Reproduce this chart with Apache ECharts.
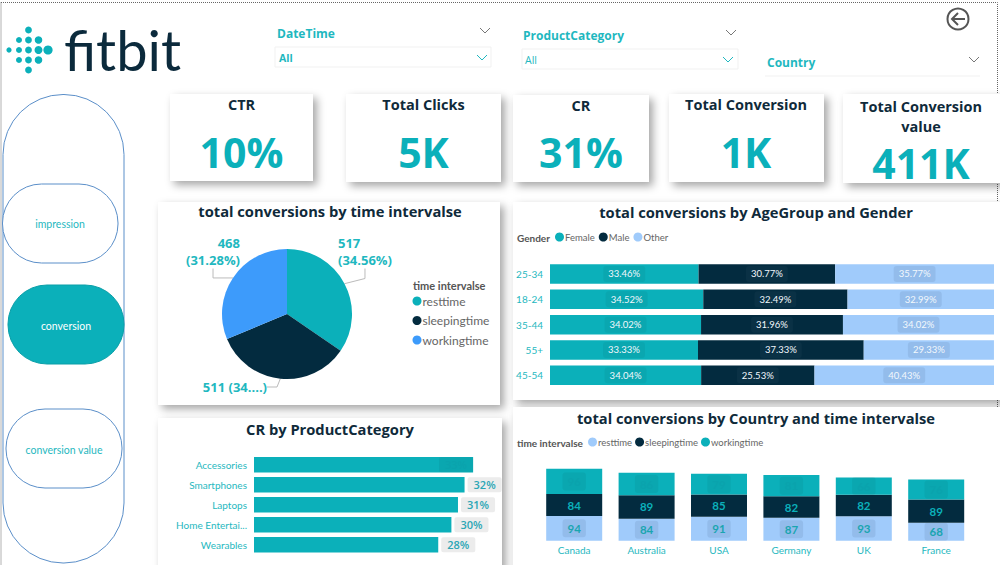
<!DOCTYPE html>
<html>
<head>
<meta charset="utf-8">
<title>fitbit dashboard</title>
<style>
  html, body { margin: 0; padding: 0; background: #fff; overflow: hidden; }
  #main { width: 1000px; height: 565px; }
</style>
<script src="https://cdn.jsdelivr.net/npm/echarts@6/dist/echarts.min.js"></script>
</head>
<body>
<div id="main"></div>
<script>
// data
const kpiTitles = ['CTR', 'Total Clicks', 'CR', 'Total Conversion', 'Total Conversion\nvalue']
const kpiValues = ['10%', '5K', '31%', '1K', '411K']

const timeNames = ['resttime', 'sleepingtime', 'workingtime']
const timeTotals = [517, 511, 468]
const pieLabels = ['517\n(34.56%)', '511 (34....)', '468\n(31.28%)']

const ageGroups = ['25-34', '18-24', '35-44', '55+', '45-54']
const femaleShare = [33.46, 34.52, 34.02, 33.33, 34.04]
const maleShare = [30.77, 32.49, 31.96, 37.33, 25.53]
const otherShare = [35.77, 32.99, 34.02, 29.33, 40.43]

const countries = ['Canada', 'Australia', 'USA', 'Germany', 'UK', 'France']
const restByCountry = [94, 84, 91, 87, 93, 68]
const sleepByCountry = [84, 89, 85, 82, 82, 89]
const workByCountry = [96, 86, 79, 81, 66, 76]

const productCategories = ['Accessories', 'Smartphones', 'Laptops', 'Home Entertainment', 'Wearables']
const crByCategory = [33.3, 32, 31, 30, 28]

const sideButtons = ['impression', 'conversion', 'conversion value']

// colours
const TEAL = '#0bb0ba'
const NAVY = '#032b3f'
const LIGHT = '#a0cbfb'
const BLUE = '#3d9bfb'
const LABEL_TEAL = '#1fb8c0'
const FONT = '"Open Sans", sans-serif'
const SMALL_FONT = 'Lato, sans-serif'

// page furniture
const cardBoxes = [
  [170, 94, 143, 87], [346, 94, 155, 88], [513, 95, 136, 87], [669, 94, 155, 88], [843, 94, 160, 89]
]
const panelBoxes = [
  [158, 202, 342, 203], [513, 202, 490, 198], [158, 418, 344, 160], [513, 407, 490, 170]
]
const logoDots = [
  [28.5, 30, 3.4], [19, 40, 3], [28.5, 40, 3.4], [38.5, 40, 3.8],
  [9, 50, 2.6], [19, 50, 3], [28.5, 50, 3.4], [38.5, 50, 4], [48, 50, 4.6],
  [19, 60, 3], [28.5, 60, 3.4], [38.5, 60, 3.8], [28.5, 70, 3.4]
]

const text = (x, y, str, font, fill, align) => ({
  type: 'text', x, y, z: 5,
  style: { text: str, font, fill, textAlign: align || 'left', textVerticalAlign: 'middle' }
})
const chevron = (x, y, color) => ({
  type: 'polyline', z: 5,
  shape: { points: [[x - 5, y - 3], [x, y + 2], [x + 5, y - 3]] },
  style: { stroke: color, lineWidth: 1, fill: null }
})
const box = (b, extra) => ({
  type: 'rect', z: 0,
  shape: { x: b[0], y: b[1], width: b[2], height: b[3], r: b[4] || 0 },
  style: Object.assign({ fill: '#fff' }, extra)
})
const shadow = { shadowBlur: 8, shadowOffsetX: 4, shadowOffsetY: 4, shadowColor: 'rgba(0,0,0,0.35)' }

const furniture = [
  box([1, 2.5, 996.5, 580], { fill: 'none', stroke: '#666', lineWidth: 1, lineDash: [1, 1] })
]
logoDots.forEach(d => furniture.push({ type: 'circle', z: 5, shape: { cx: d[0], cy: d[1], r: d[2] }, style: { fill: TEAL } }))
furniture.push(text(64, 49, 'fitbit', '56px Lato, sans-serif', '#0b2a3c'))

// slicers
furniture.push(
  text(277, 33, 'DateTime', 'bold 12px ' + FONT, LABEL_TEAL),
  chevron(485, 31, '#777'),
  box([275, 47, 216, 20], { stroke: '#f1f1f1', lineWidth: 1 }),
  text(279, 58, 'All', 'bold 10.5px ' + FONT, LABEL_TEAL),
  chevron(482, 58, LABEL_TEAL),
  text(523, 35, 'ProductCategory', 'bold 12px ' + FONT, LABEL_TEAL),
  chevron(731, 33, '#777'),
  box([522, 49, 216, 20], { stroke: '#f1f1f1', lineWidth: 1 }),
  text(525, 60, 'All', '10.5px ' + FONT, LABEL_TEAL),
  chevron(728, 60, LABEL_TEAL),
  text(767, 62, 'Country', 'bold 12px ' + FONT, LABEL_TEAL),
  chevron(974, 60, '#777'),
  { type: 'line', z: 0, shape: { x1: 765, y1: 76, x2: 980, y2: 76 }, style: { stroke: '#f1f1f1', lineWidth: 1 } }
)

// back button
furniture.push(
  { type: 'circle', z: 5, shape: { cx: 958, cy: 19, r: 10.5 }, style: { fill: '#fff', stroke: '#555', lineWidth: 2 } },
  { type: 'polyline', z: 5, shape: { points: [[958, 13], [952, 19], [958, 25]] }, style: { stroke: '#555', lineWidth: 2, fill: null } },
  { type: 'line', z: 5, shape: { x1: 952, y1: 19, x2: 965, y2: 19 }, style: { stroke: '#555', lineWidth: 2 } }
)

// side navigation
const OUTLINE = '#5b8fc9'
furniture.push(
  box([3, 94.5, 121, 468.5, 60], { stroke: OUTLINE, lineWidth: 1 }),
  box([2.5, 184, 115.5, 79, 39], { stroke: OUTLINE, lineWidth: 1 }),
  box([8, 285, 116, 79, 39], { fill: TEAL, stroke: '#0a9fa8', lineWidth: 1 }),
  box([6, 409, 116, 79, 39], { stroke: OUTLINE, lineWidth: 1 }),
  text(60, 224, sideButtons[0], '10.5px ' + SMALL_FONT, LABEL_TEAL, 'center'),
  text(66, 325.5, sideButtons[1], '10.5px ' + SMALL_FONT, '#fff', 'center'),
  text(64, 449.5, sideButtons[2], '10.5px ' + SMALL_FONT, LABEL_TEAL, 'center')
)

// panels and KPI cards
panelBoxes.forEach(b => furniture.push(box(b, shadow)))
cardBoxes.forEach((b, i) => {
  furniture.push(box(b, shadow))
  const cx = b[0] + b[2] / 2 + (i === 3 ? -0.5 : i === 4 ? -2 : 0)
  const twoLines = kpiTitles[i].indexOf('\n') >= 0
  furniture.push({
    type: 'text', x: cx, y: twoLines ? 116 : b[1] + 10.5, z: 5,
    style: {
      text: kpiTitles[i], font: 'bold 14.5px ' + FONT, fill: '#0f2a3a',
      textAlign: 'center', textVerticalAlign: 'middle', lineHeight: 20
    }
  })
  furniture.push(text(cx, twoLines ? 162.5 : 151.5, kpiValues[i], 'bold 41px ' + FONT, TEAL, 'center'))
})

// legend captions
furniture.push(
  text(413, 285, 'time intervalse', 'bold 11px ' + SMALL_FONT, '#555'),
  text(517, 238, 'Gender', 'bold 10px ' + SMALL_FONT, '#555'),
  text(517, 443, 'time intervalse', 'bold 10px ' + SMALL_FONT, '#555')
)

// title and legend boxes carry a 5px padding, so anchors are pulled back by it
const chartTitle = (str, x, y) => ({
  text: str, left: x - 5, top: y - 5, textAlign: 'center',
  textStyle: { fontFamily: FONT, fontSize: 14.7, fontWeight: 'bold', color: '#0f2a3a' }
})
const legendBase = (fontSize) => ({
  icon: 'circle', itemWidth: 9, itemHeight: 9, selectedMode: false,
  textStyle: { fontFamily: SMALL_FONT, fontSize, color: '#666', padding: [0, 0, 0, -4] }
})
const hiddenValueAxis = (gridIndex, max) => ({
  type: 'value', gridIndex, min: 0, max, show: false
})
const categoryLabel = { color: LABEL_TEAL, fontFamily: SMALL_FONT, fontSize: 10 }

// label box tints
const tealBox = 'rgba(0,60,70,0.08)'
const lightBox = 'rgba(60,90,130,0.13)'

const ageSeries = (name, data, color, boxColor) => ({
  name, type: 'bar', stack: 'age', xAxisIndex: 0, yAxisIndex: 0, data, barWidth: 19.5,
  itemStyle: { color },
  label: {
    show: true, position: 'inside', color: '#f2f8fd', fontFamily: SMALL_FONT, fontSize: 9.5,
    formatter: p => p.value.toFixed(2) + '%',
    backgroundColor: boxColor, padding: [3, 5], borderRadius: 3
  }
})
const countrySeries = (name, data, color, labelColor, boxColor) => ({
  name, type: 'bar', stack: 'country', xAxisIndex: 1, yAxisIndex: 1, data, barWidth: 56,
  itemStyle: { color },
  label: {
    show: true, position: 'inside', color: labelColor, fontFamily: SMALL_FONT, fontSize: 11.5, fontWeight: 'bold',
    backgroundColor: boxColor, padding: [3, 5], borderRadius: 3
  }
})

const option = {
  animation: false,
  backgroundColor: '#fff',
  graphic: { elements: furniture },
  title: [
    chartTitle('total conversions by time intervalse', 330, 203),
    chartTitle('total conversions by AgeGroup and Gender', 756, 204),
    chartTitle('CR by ProductCategory', 330, 421),
    chartTitle('total conversions by Country and time intervalse', 756, 410)
  ],
  legend: [
    Object.assign(legendBase(12), {
      orient: 'vertical', left: 407.5, top: 290, itemGap: 7.5,
      data: [
        { name: 'resttime', itemStyle: { color: TEAL } },
        { name: 'sleepingtime', itemStyle: { color: NAVY } },
        { name: 'workingtime', itemStyle: { color: BLUE } }
      ]
    }),
    Object.assign(legendBase(9.5), { left: 550, top: 227, itemGap: 4, data: ['Female', 'Male', 'Other'] }),
    Object.assign(legendBase(9.5), {
      left: 583, top: 432, itemGap: 3,
      data: [
        { name: 'resttime', itemStyle: { color: LIGHT } },
        { name: 'sleepingtime', itemStyle: { color: NAVY } },
        { name: 'workingtime', itemStyle: { color: TEAL } }
      ]
    })
  ],
  grid: [
    { left: 550, top: 261.3, width: 444, height: 126.7 },
    { left: 538, top: 467.2, width: 434.4, height: 73.5 },
    { left: 254, top: 454.7, width: 263.2, height: 100 }
  ],
  xAxis: [
    hiddenValueAxis(0, 100),
    {
      type: 'category', gridIndex: 1, data: countries,
      axisLine: { show: false }, axisTick: { show: false },
      axisLabel: Object.assign({ margin: 4 }, categoryLabel)
    },
    hiddenValueAxis(2, 40)
  ],
  yAxis: [
    {
      type: 'category', gridIndex: 0, data: ageGroups, inverse: true,
      axisLine: { show: false }, axisTick: { show: false },
      axisLabel: Object.assign({ margin: 7 }, categoryLabel)
    },
    hiddenValueAxis(1, 280),
    {
      type: 'category', gridIndex: 2, data: productCategories, inverse: true,
      axisLine: { show: false }, axisTick: { show: false },
      axisLabel: Object.assign({ margin: 7, width: 74, overflow: 'truncate', ellipsis: '...' }, categoryLabel)
    }
  ],
  series: [
    {
      name: 'time intervalse', type: 'pie', center: [287, 314], radius: 65, startAngle: 90,
      data: timeNames.map((name, i) => ({
        name, value: timeTotals[i],
        itemStyle: { color: [TEAL, NAVY, BLUE][i] }
      })),
      label: {
        color: LABEL_TEAL, fontFamily: FONT, fontSize: 13, fontWeight: 'bold', lineHeight: 17,
        formatter: p => pieLabels[p.dataIndex]
      },
      labelLine: { show: true, length: 8, length2: 10, lineStyle: { color: '#bbb', width: 1 } },
      labelLayout: p => [
        { x: 338, y: 251.5, align: 'left', verticalAlign: 'middle' },
        { x: 267, y: 387, align: 'right', verticalAlign: 'middle' },
        { x: 240, y: 251.5, align: 'right', verticalAlign: 'middle' }
      ][p.dataIndex]
    },
    ageSeries('Female', femaleShare, TEAL, tealBox),
    ageSeries('Male', maleShare, NAVY, 'rgba(255,255,255,0.03)'),
    ageSeries('Other', otherShare, LIGHT, lightBox),
    countrySeries('resttime', restByCountry, LIGHT, '#1aa5b0', lightBox),
    countrySeries('sleepingtime', sleepByCountry, NAVY, TEAL, 'transparent'),
    countrySeries('workingtime', workByCountry, TEAL, '#0aa3ad', tealBox),
    {
      name: 'CR', type: 'bar', xAxisIndex: 2, yAxisIndex: 2, barWidth: 15.5,
      itemStyle: { color: TEAL },
      data: crByCategory.map((value, i) => ({
        value,
        label: i === 0
          ? { position: 'insideRight', distance: 0, color: '#0aa3ad', backgroundColor: tealBox }
          : { position: 'right', distance: 3, color: '#2ba6b5', backgroundColor: '#ececec' }
      })),
      label: {
        show: true, fontFamily: FONT, fontSize: 11, fontWeight: 600,
        padding: [2, 6], borderRadius: 2,
        formatter: p => Math.round(p.value) + '%'
      }
    }
  ]
}

const chart = echarts.init(document.getElementById('main'), null, { renderer: 'svg' })
chart.setOption(option)
window.addEventListener('resize', () => chart.resize())
</script>
</body>
</html>
